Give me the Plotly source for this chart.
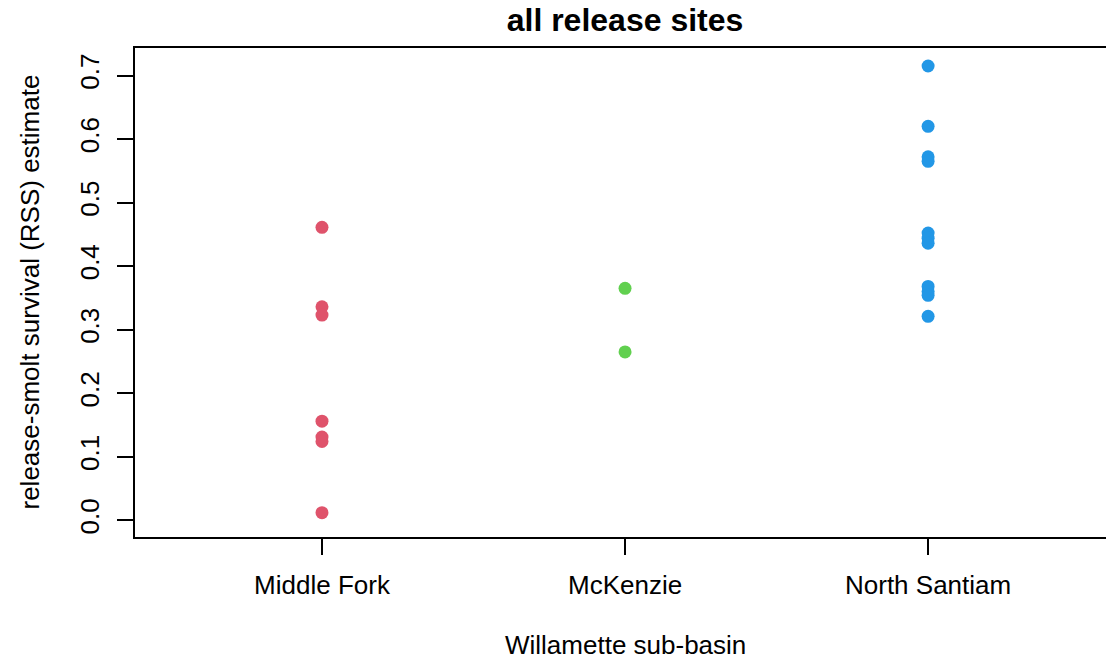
import plotly.graph_objects as go

# Data
categories = ["Middle Fork", "McKenzie", "North Santiam"]
middle_fork = [0.461, 0.336, 0.323, 0.156, 0.131, 0.124, 0.012]
mckenzie = [0.365, 0.265]
north_santiam = [0.715, 0.620, 0.572, 0.565, 0.452, 0.444, 0.436, 0.368, 0.360, 0.354, 0.321]
colors = ["#DF536B", "#61D04F", "#2297E6"]
y_ticks = [0.0, 0.1, 0.2, 0.3, 0.4, 0.5, 0.6, 0.7]

series = [middle_fork, mckenzie, north_santiam]

FONT = "Liberation Sans, Arial, sans-serif"

fig = go.Figure()
for cat, vals, col in zip(categories, series, colors):
    fig.add_trace(go.Scatter(
        x=[cat] * len(vals), y=vals, mode="markers",
        marker=dict(color=col, size=13, line=dict(width=0)),
        showlegend=False, hoverinfo="x+y",
    ))

fig.update_layout(
    width=1106, height=660,
    paper_bgcolor="white", plot_bgcolor="white",
    margin=dict(l=135, r=0, t=48, b=123, pad=0),
    font=dict(family=FONT, size=26, color="black"),
    title=dict(text="<b>all release sites</b>", font=dict(family=FONT, size=32, color="black"),
               x=625 / 1106, xref="container", xanchor="center",
               y=1 - 20 / 660, yref="container", yanchor="middle"),
    xaxis=dict(
        type="category", categoryorder="array", categoryarray=categories,
        range=[-0.617, 2.587], automargin=False,
        showline=True, linecolor="black", linewidth=2, mirror=True,
        ticks="outside", ticklen=16, tickwidth=2, tickcolor="black",
        showgrid=False, zeroline=False,
        tickfont=dict(family=FONT, size=26, color="black"),
        ticklabelstandoff=8,
    ),
    yaxis=dict(
        range=[-0.0263, 0.7433], automargin=False,
        tickvals=y_ticks, ticktext=[f"{v:.1f}" for v in y_ticks],
        tickangle=-90,
        showline=True, linecolor="black", linewidth=2, mirror=False,
        ticks="outside", ticklen=16, tickwidth=2, tickcolor="black",
        showgrid=False, zeroline=False,
        tickfont=dict(family=FONT, size=26, color="black"),
        ticklabelstandoff=8,
    ),
    annotations=[
        dict(text="Willamette sub-basin", xref="paper", yref="paper",
             x=(625 - 135) / 971, y=-(645 - 537) / 489, xanchor="center", yanchor="middle",
             showarrow=False, font=dict(family=FONT, size=26, color="black")),
        dict(text="release-smolt survival (RSS) estimate", xref="paper", yref="paper",
             x=-(135 - 29) / 971, y=0.5, xanchor="center", yanchor="middle", textangle=-90,
             showarrow=False, font=dict(family=FONT, size=26, color="black")),
    ],
)

fig.write_html("out.html", config={"displayModeBar": False},
               post_script="document.body.style.margin='0';document.body.style.overflow='hidden';")
